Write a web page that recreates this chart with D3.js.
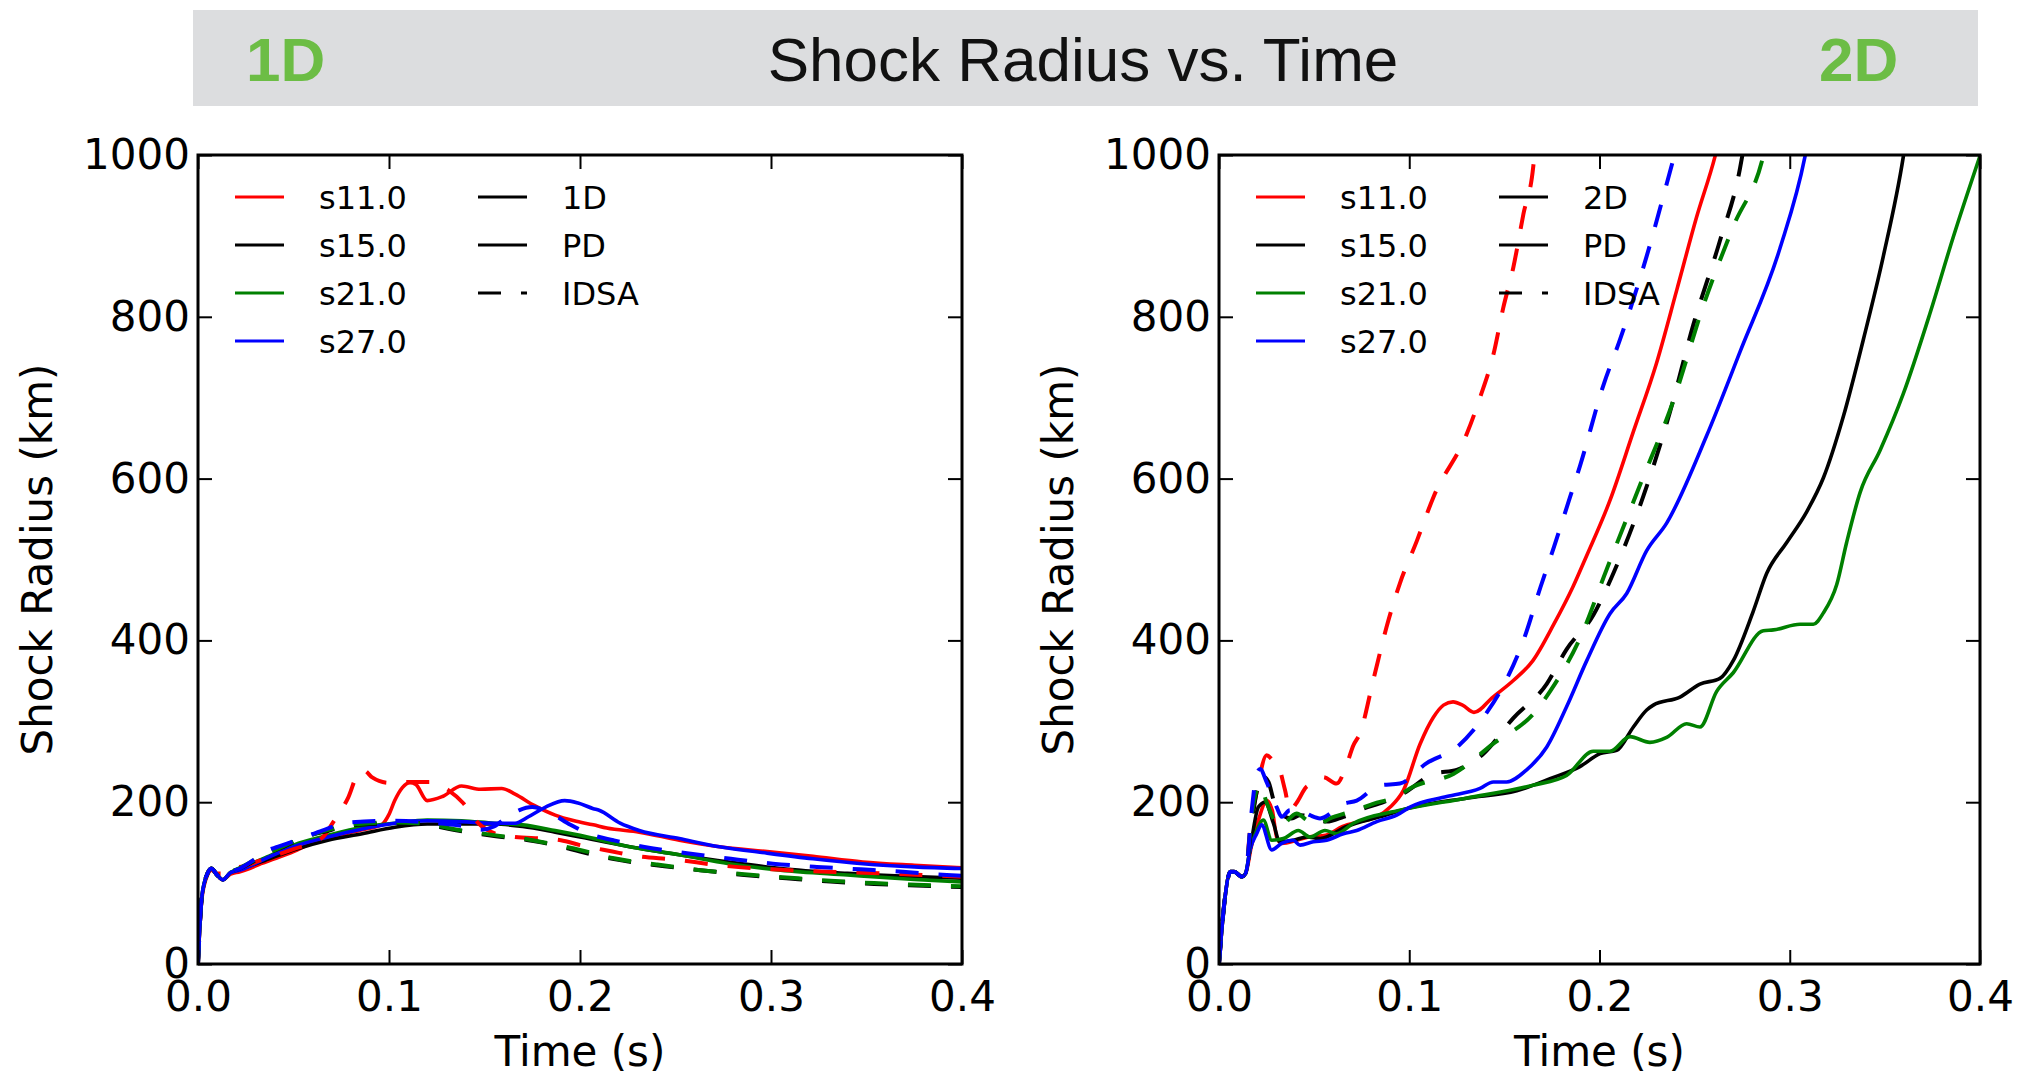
<!DOCTYPE html>
<html>
<head>
<meta charset="utf-8">
<script src="https://cdn.jsdelivr.net/npm/d3@7"></script>
<style>
  body { margin: 0; background: #fff; }
</style>
</head>
<body>
<script>
// ---- data: [time (s), shock radius (km)] ----
const progenitors = ["s11.0", "s15.0", "s21.0", "s27.0"];
const progColors = ["#ff0000", "#000000", "#008000", "#0000ff"];
const xTicks = [0.0, 0.1, 0.2, 0.3, 0.4];
const yTicks = [0, 200, 400, 600, 800, 1000];

// 1D, PD (solid)
const pd1_s11 = [[0,0],[0.002,80],[0.005,110],[0.007,116],[0.01,110],[0.013,104],[0.017,111],[0.022,114],[0.027,118],[0.033,124],[0.04,130],[0.05,139],[0.06,150],[0.072,158],[0.086,166],[0.096,172],[0.1,185],[0.103,202],[0.107,218],[0.111,224],[0.114,222],[0.12,202],[0.128,207],[0.138,220],[0.148,216],[0.159,217],[0.166,210],[0.176,196],[0.187,184],[0.197,177],[0.207,172],[0.214,168],[0.231,163],[0.252,153],[0.273,145],[0.298,139],[0.322,133],[0.348,126],[0.375,122],[0.4,119]];
const pd1_s15 = [[0,0],[0.002,83],[0.005,112],[0.007,118],[0.01,110],[0.013,104],[0.017,113],[0.022,117],[0.028,122],[0.035,128],[0.05,141],[0.068,153],[0.086,161],[0.103,169],[0.12,173],[0.138,173],[0.155,173],[0.17,170],[0.187,163],[0.2,157],[0.226,145],[0.252,135],[0.278,126],[0.305,118],[0.34,112],[0.375,108],[0.4,106]];
const pd1_s21 = [[0,0],[0.002,83],[0.005,112],[0.007,118],[0.01,110],[0.013,104],[0.017,113],[0.022,118],[0.028,124],[0.035,131],[0.05,147],[0.068,159],[0.086,169],[0.103,174],[0.12,178],[0.138,177],[0.155,174],[0.17,172],[0.187,165],[0.2,159],[0.226,145],[0.252,135],[0.278,124],[0.305,116],[0.34,110],[0.375,104.5],[0.4,101.5]];
const pd1_s27 = [[0,0],[0.002,83],[0.005,112],[0.007,118],[0.01,110],[0.013,104],[0.017,113],[0.022,116],[0.028,122],[0.035,130],[0.05,145],[0.068,157],[0.086,167],[0.103,174],[0.12,177],[0.138,176],[0.155,174],[0.166,174],[0.173,182],[0.182,194],[0.192,202],[0.199,199],[0.207,192],[0.21,190],[0.221,174],[0.231,165],[0.252,155],[0.273,145],[0.298,137],[0.322,130],[0.348,124],[0.375,120],[0.4,118]];

// 1D, IDSA (dashed)
const idsa1_s11 = [[0,0],[0.002,83],[0.005,112],[0.007,118],[0.01,112],[0.013,112],[0.018,118],[0.024,121],[0.035,130],[0.05,142],[0.065,156],[0.0707,175],[0.0787,206],[0.084,236],[0.087,239],[0.091,231],[0.1,224],[0.11,225],[0.1215,225],[0.131,215],[0.1388,199],[0.1468,174],[0.156,161],[0.166,157],[0.18,155],[0.19,153],[0.2,147],[0.217,139],[0.228,134],[0.25,129],[0.273,122],[0.3,117],[0.33,114],[0.36,112],[0.38,110],[0.4,108]];
const idsa1_s15 = [[0,0],[0.002,83],[0.005,112],[0.007,118],[0.01,110],[0.013,104],[0.017,113],[0.022,118],[0.03,128],[0.035,135],[0.045,145],[0.056,157],[0.067,164],[0.077,170],[0.09,173],[0.103,174],[0.115,174],[0.121,172],[0.131,167],[0.147,161],[0.156,158],[0.173,153],[0.178,151],[0.19,145],[0.2,139],[0.217,130],[0.24,122],[0.263,116],[0.286,110],[0.308,106],[0.331,102],[0.354,99],[0.376,97],[0.4,95]];
const idsa1_s21 = [[0,0],[0.002,83],[0.005,112],[0.007,118],[0.01,110],[0.013,104],[0.017,113],[0.022,119],[0.03,129],[0.035,135],[0.045,146],[0.056,157],[0.067,165],[0.077,171],[0.09,174],[0.103,175],[0.115,174],[0.121,173],[0.131,168],[0.147,162],[0.156,159],[0.173,154],[0.19,146],[0.2,141],[0.217,131],[0.24,123],[0.263,116],[0.286,111],[0.308,107],[0.331,103],[0.354,100],[0.376,98],[0.4,96]];
const idsa1_s27 = [[0,0],[0.002,83],[0.005,112],[0.007,118],[0.01,110],[0.013,104],[0.017,113],[0.022,118],[0.03,130],[0.035,139],[0.042,145],[0.056,157],[0.065,165],[0.077,174],[0.087,176],[0.1,177],[0.12,175],[0.14,170],[0.148,166],[0.155,170],[0.162,182],[0.168,190],[0.175,194],[0.185,186],[0.195,172],[0.207,159],[0.2175,153],[0.233,145],[0.256,137],[0.279,130],[0.301,124],[0.324,120],[0.347,117],[0.369,114],[0.392,110],[0.4,109]];

// 2D, PD (solid)
const pd2_s11 = [[0,0],[0.003,79],[0.006,114],[0.008,114],[0.012,108],[0.014,112],[0.017,145],[0.021,180],[0.025,202],[0.028,190],[0.0303,157],[0.033,149],[0.041,153],[0.047,157],[0.056,159],[0.065,170],[0.074,176],[0.083,182],[0.09,194],[0.097,215],[0.1057,272],[0.1127,305],[0.118,320],[0.123,324],[0.128,320],[0.134,311],[0.144,330],[0.155,351],[0.165,375],[0.176,420],[0.186,466],[0.1933,505],[0.2055,573],[0.2178,658],[0.23,743],[0.2406,833],[0.251,923],[0.2607,998],[0.262,1010]];
const pd2_s15 = [[0,0],[0.003,79],[0.006,114],[0.008,114],[0.012,108],[0.014,112],[0.0163,141],[0.0207,194],[0.0242,200],[0.0286,174],[0.032,151],[0.039,153],[0.0461,157],[0.0531,155],[0.0671,170],[0.0846,182],[0.1021,194],[0.13,205],[0.1565,214],[0.174,229],[0.1897,244],[0.2003,260],[0.209,264],[0.2178,293],[0.2248,314],[0.2283,320],[0.2423,330],[0.2528,346],[0.2633,353],[0.2703,375],[0.2808,436],[0.2879,483],[0.2984,521],[0.3089,559],[0.3177,601],[0.3282,677],[0.3387,772],[0.3492,875],[0.3597,998],[0.3605,1010]];
const pd2_s21 = [[0,0],[0.003,79],[0.006,114],[0.008,114],[0.012,108],[0.014,112],[0.0163,141],[0.0198,165],[0.0233,178],[0.0277,153],[0.0338,155],[0.0417,165],[0.0478,157],[0.0557,165],[0.0618,161],[0.0706,174],[0.0951,190],[0.13,205],[0.165,221],[0.1827,233],[0.1967,263],[0.2055,263],[0.216,281],[0.2265,274],[0.2353,280],[0.2458,297],[0.2528,293],[0.2616,337],[0.2703,360],[0.2861,412],[0.2914,413],[0.3054,420],[0.3124,420],[0.3177,434],[0.3247,469],[0.3299,521],[0.337,583],[0.3475,635],[0.3597,705],[0.3738,805],[0.386,899],[0.4,999]];
const pd2_s27 = [[0,0],[0.003,79],[0.006,114],[0.008,114],[0.012,108],[0.014,112],[0.0163,141],[0.0198,161],[0.0224,172],[0.0277,141],[0.0329,149],[0.039,153],[0.0426,147],[0.0496,151],[0.0566,153],[0.0654,161],[0.0724,165],[0.0829,176],[0.0934,184],[0.1004,194],[0.1197,207],[0.1372,217],[0.1442,225],[0.1512,225],[0.1617,240],[0.1722,268],[0.1827,318],[0.1933,375],[0.2055,433],[0.2143,458],[0.2248,511],[0.2353,545],[0.2563,653],[0.2739,757],[0.2949,885],[0.308,998],[0.309,1010]];

// 2D, IDSA (dashed)
const idsa2_s11 = [[0,0],[0.003,79],[0.006,114],[0.008,114],[0.012,108],[0.014,112],[0.0163,165],[0.02,215],[0.025,258],[0.029,250],[0.031,246],[0.0347,215],[0.0373,190],[0.041,200],[0.046,219],[0.05,223],[0.0548,231],[0.0618,223],[0.0673,248],[0.0706,270],[0.0741,285],[0.0811,351],[0.088,416],[0.095,470],[0.104,523],[0.1127,577],[0.1302,655],[0.1372,700],[0.1442,753],[0.1494,811],[0.1547,861],[0.16,927],[0.1652,986],[0.166,1005]];
const idsa2_s15 = [[0,0],[0.003,79],[0.006,114],[0.008,114],[0.012,108],[0.014,112],[0.017,170],[0.02,215],[0.0224,233],[0.026,225],[0.029,200],[0.032,186],[0.0382,180],[0.0426,184],[0.048,182],[0.0566,176],[0.0654,182],[0.0759,192],[0.0864,200],[0.0969,211],[0.1127,235],[0.125,240],[0.139,260],[0.1547,304],[0.1722,346],[0.1827,389],[0.1967,431],[0.2073,483],[0.223,578],[0.237,682],[0.2493,790],[0.2633,894],[0.2739,984],[0.2755,1005]];
const idsa2_s21 = [[0,0],[0.003,79],[0.006,114],[0.008,114],[0.012,108],[0.014,112],[0.017,180],[0.0198,215],[0.0216,221],[0.025,200],[0.029,178],[0.032,170],[0.0408,186],[0.0461,178],[0.0513,172],[0.0583,180],[0.0689,188],[0.081,198],[0.0934,207],[0.102,219],[0.1232,235],[0.144,272],[0.167,314],[0.174,337],[0.1898,403],[0.2038,488],[0.2213,592],[0.2388,696],[0.2546,814],[0.2704,912],[0.2862,1000],[0.287,1008]];
const idsa2_s27 = [[0,0],[0.003,79],[0.006,114],[0.008,114],[0.012,108],[0.014,112],[0.0172,190],[0.0198,235],[0.0216,241],[0.025,225],[0.0303,194],[0.033,182],[0.0373,190],[0.0426,190],[0.0478,184],[0.0531,180],[0.0654,198],[0.0724,202],[0.0846,221],[0.0951,223],[0.109,248],[0.125,268],[0.139,305],[0.151,351],[0.16,400],[0.169,466],[0.176,515],[0.1845,577],[0.1898,616],[0.202,715],[0.2108,772],[0.2248,875],[0.237,979],[0.2385,992]];

const panels = [
  {tag: "1D", left: 198, right: 962, pd: [pd1_s11, pd1_s15, pd1_s21, pd1_s27], idsa: [idsa1_s11, idsa1_s15, idsa1_s21, idsa1_s27]},
  {tag: "2D", left: 1219, right: 1980, pd: [pd2_s11, pd2_s15, pd2_s21, pd2_s27], idsa: [idsa2_s11, idsa2_s15, idsa2_s21, idsa2_s27]}
];

const W = 2027, H = 1080;
const plotTop = 155, plotBottom = 964;
const font = "DejaVu Sans";
const dash = "23,20";

const svg = d3.select("body").append("svg")
  .attr("width", W).attr("height", H)
  .attr("font-family", font);

// banner
svg.append("rect").attr("x", 193).attr("y", 10).attr("width", 1785).attr("height", 96).attr("fill", "#dcdddf");
svg.append("text").attr("x", 1083).attr("y", 81).attr("text-anchor", "middle")
  .attr("font-family", "Liberation Sans").attr("font-size", 62).attr("fill", "#111")
  .text("Shock Radius vs. Time");
svg.append("text").attr("x", 246).attr("y", 81)
  .attr("font-family", "Liberation Sans").attr("font-weight", "bold").attr("font-size", 62).attr("fill", "#6cbd45")
  .text("1D");
svg.append("text").attr("x", 1819).attr("y", 81)
  .attr("font-family", "Liberation Sans").attr("font-weight", "bold").attr("font-size", 62).attr("fill", "#6cbd45")
  .text("2D");

panels.forEach(function(p, pi) {
  let x = d3.scaleLinear().domain([0, 0.4]).range([p.left, p.right]);
  let y = d3.scaleLinear().domain([0, 1000]).range([plotBottom, plotTop]);
  let g = svg.append("g");

  let clipId = "clip" + pi;
  svg.append("clipPath").attr("id", clipId).append("rect")
    .attr("x", p.left).attr("y", plotTop).attr("width", p.right - p.left).attr("height", plotBottom - plotTop);

  let line = d3.line().curve(d3.curveMonotoneX).x(d => x(d[0])).y(d => y(d[1]));
  let lines = g.append("g").attr("clip-path", "url(#" + clipId + ")");

  p.pd.forEach(function(s, i) {
    lines.append("path").datum(s).attr("d", line)
      .attr("fill", "none").attr("stroke", progColors[i]).attr("stroke-width", 3.6)
      .attr("stroke-linejoin", "round");
  });
  p.idsa.forEach(function(s, i) {
    lines.append("path").datum(s).attr("d", line)
      .attr("fill", "none").attr("stroke", progColors[i]).attr("stroke-width", 4)
      .attr("stroke-dasharray", dash);
  });

  // axes, ticks inward on all four sides
  let fmtX = d3.format(".1f");
  let ax = [
    g.append("g").attr("transform", "translate(0," + plotBottom + ")")
      .call(d3.axisBottom(x).tickValues(xTicks).tickSize(-14).tickPadding(17).tickFormat(fmtX)),
    g.append("g").attr("transform", "translate(0," + plotTop + ")")
      .call(d3.axisTop(x).tickValues(xTicks).tickSize(-14).tickFormat("")),
    g.append("g").attr("transform", "translate(" + p.left + ",0)")
      .call(d3.axisLeft(y).tickValues(yTicks).tickSize(-14).tickPadding(8).tickFormat(d3.format("d"))),
    g.append("g").attr("transform", "translate(" + p.right + ",0)")
      .call(d3.axisRight(y).tickValues(yTicks).tickSize(-14).tickFormat(""))
  ];
  ax.forEach(function(a) {
    a.select(".domain").remove();
    a.selectAll(".tick line").attr("stroke", "#000").attr("stroke-width", 2);
    a.selectAll(".tick text").attr("font-family", font).attr("font-size", 42).attr("fill", "#000");
  });

  g.append("rect").attr("x", p.left).attr("y", plotTop)
    .attr("width", p.right - p.left).attr("height", plotBottom - plotTop)
    .attr("fill", "none").attr("stroke", "#000").attr("stroke-width", 3);

  // axis labels
  g.append("text").attr("x", (p.left + p.right) / 2).attr("y", 1066)
    .attr("text-anchor", "middle").attr("font-size", 42).text("Time (s)");
  let ylx = p.left - 146;
  g.append("text").attr("transform", "translate(" + ylx + "," + ((plotTop + plotBottom) / 2) + ") rotate(-90)")
    .attr("text-anchor", "middle").attr("font-size", 42).text("Shock Radius (km)");

  // legend
  let rows = [197, 245, 293, 341];
  let leg = g.append("g").attr("font-size", 32);
  progenitors.forEach(function(name, i) {
    leg.append("line").attr("x1", p.left + 37).attr("x2", p.left + 86)
      .attr("y1", rows[i]).attr("y2", rows[i])
      .attr("stroke", progColors[i]).attr("stroke-width", 3.2);
    leg.append("text").attr("x", p.left + 121).attr("y", rows[i]).attr("dy", "0.37em").text(name);
  });
  let kinds = [[p.tag, null], ["PD", null], ["IDSA", dash]];
  kinds.forEach(function(k, i) {
    leg.append("line").attr("x1", p.left + 280).attr("x2", p.left + 329)
      .attr("y1", rows[i]).attr("y2", rows[i])
      .attr("stroke", "#000").attr("stroke-width", 3.2)
      .attr("stroke-dasharray", k[1]);
    leg.append("text").attr("x", p.left + 364).attr("y", rows[i]).attr("dy", "0.37em").text(k[0]);
  });
});
</script>
</body>
</html>
